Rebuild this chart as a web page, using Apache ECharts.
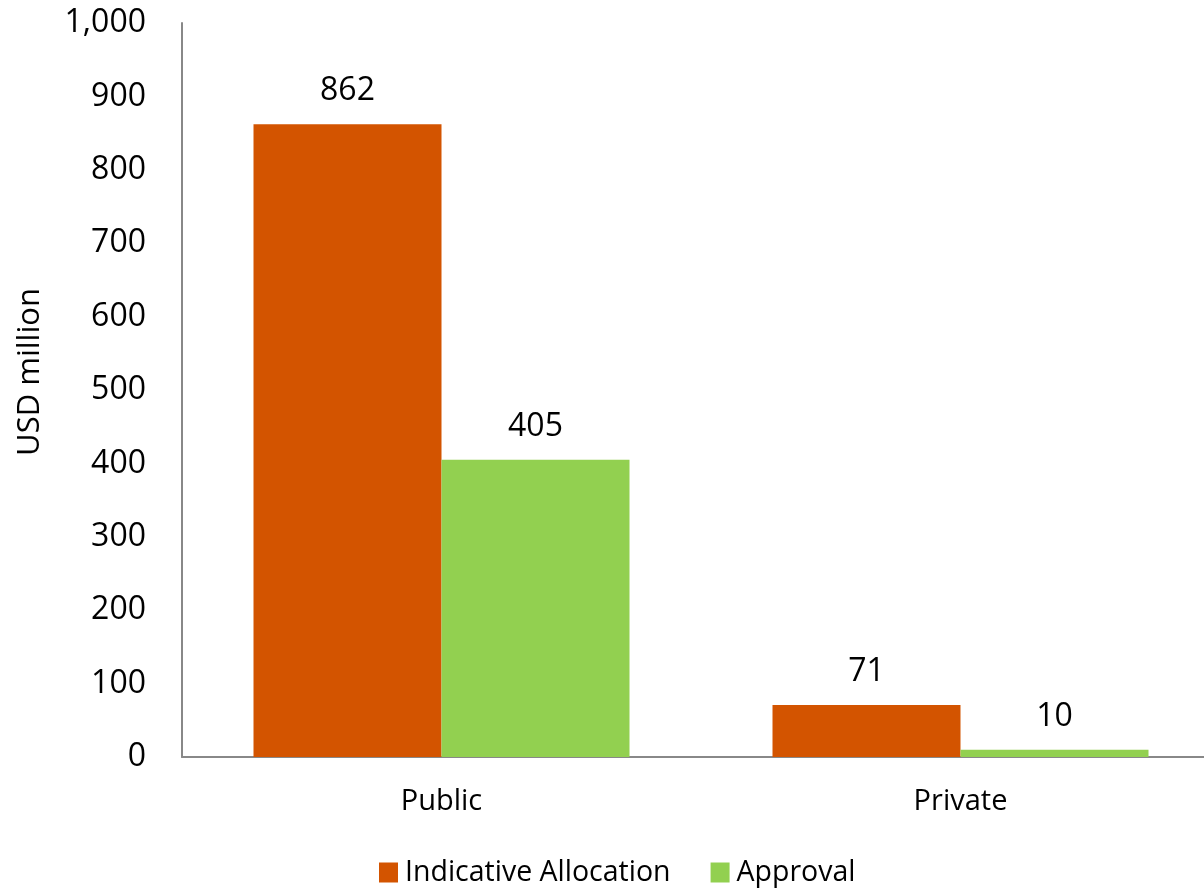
<!DOCTYPE html>
<html>
<head>
<meta charset="utf-8">
<script src="https://cdn.jsdelivr.net/npm/echarts@6/dist/echarts.min.js"></script>
<style>html,body{margin:0;padding:0;background:#fff}#c{width:1204px;height:892px}</style>
</head>
<body>
<div id="c"></div>
<script>
var categories = ['Public', 'Private'];
var indicativeAllocation = [862, 71];
var approval = [405, 10];
var seriesNames = ['Indicative Allocation', 'Approval'];
var FONT = '"Open Sans", sans-serif';
var chart = echarts.init(document.getElementById('c'));
chart.setOption({
  animation: false,
  backgroundColor: '#fff',
  textStyle: {fontFamily: FONT},
  grid: {left: 182, top: 23, width: 1038, bottom: 135, containLabel: false, outerBoundsMode: 'none'},
  legend: {
    data: seriesNames, left: 374, top: 853, icon: 'rect', itemWidth: 19, itemHeight: 20, itemGap: 40,
    textStyle: {fontFamily: FONT, fontSize: 28.5, color: '#000', padding: [0,0,0,2]}
  },
  xAxis: {
    type: 'category', data: categories,
    axisLine: {lineStyle: {color: '#888', width: 2}},
    axisTick: {show: false},
    axisLabel: {fontFamily: FONT, fontSize: 29, color: '#000', margin: 30}
  },
  yAxis: {
    type: 'value', min: 0, max: 1000, interval: 100,
    name: 'USD million', nameLocation: 'middle', nameGap: 136, nameRotate: 90,
    nameTextStyle: {fontFamily: FONT, fontSize: 31, color: '#000', padding: [0, 0, 0, 36]},
    axisLine: {show: true, lineStyle: {color: '#888', width: 2}},
    axisTick: {show: false},
    splitLine: {show: false},
    axisLabel: {fontFamily: FONT, fontSize: 32, color: '#000', margin: 36,
      formatter: function (v) { return v.toLocaleString('en-US'); }}
  },
  series: [
    {name: seriesNames[0], type: 'bar', data: indicativeAllocation, barWidth: 188, barGap: '0%',
      itemStyle: {color: '#D35400'},
      label: {show: true, position: 'top', distance: 17, fontFamily: FONT, fontSize: 32, color: '#000'}},
    {name: seriesNames[1], type: 'bar', data: approval, barWidth: 188,
      itemStyle: {color: '#92D050'},
      label: {show: true, position: 'top', distance: 17, fontFamily: FONT, fontSize: 32, color: '#000'}}
  ]
});
</script>
</body>
</html>
